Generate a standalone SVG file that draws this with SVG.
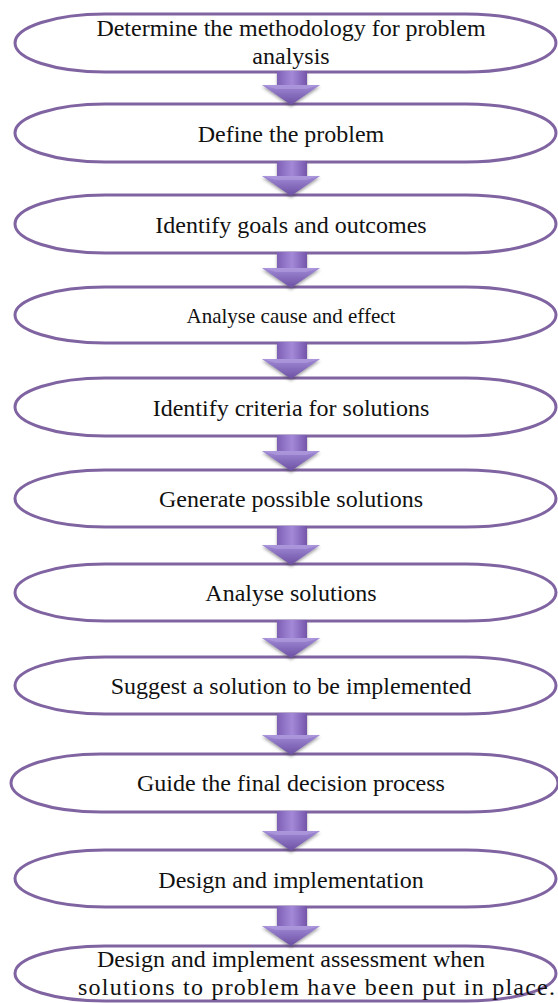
<svg xmlns="http://www.w3.org/2000/svg" width="558" height="1003" viewBox="0 0 558 1003">
<style>
.node path{fill:#fff;stroke:#8064A2;stroke-width:3}
.node text{font-family:'Liberation Serif','Times New Roman',serif;font-size:24px;fill:#111;text-anchor:middle}
.arrow .body{fill:url(#ag)}
.arrow .head{fill:url(#hg)}
.arrow .hl{fill:#b7a2e2;opacity:0.55}
</style>
<defs>
<linearGradient id="ag" x1="0" y1="0" x2="1" y2="0">
<stop offset="0" stop-color="#7d5fb4"/>
<stop offset="0.5" stop-color="#a489d8"/>
<stop offset="1" stop-color="#7455ab"/>
</linearGradient>
<linearGradient id="hg" x1="0" y1="0" x2="0" y2="1">
<stop offset="0" stop-color="#a08ad6"/>
<stop offset="1" stop-color="#6c4fa2"/>
</linearGradient>
<filter id="sh" x="-30%" y="-30%" width="160%" height="170%">
<feDropShadow dx="0" dy="2" stdDeviation="1.5" flood-color="#333" flood-opacity="0.45"/>
</filter>
</defs>

<g id="n1" class="node" font-family="Liberation Serif, serif"><path d="M105 14H466A90 29 0 0 1 466 72H105A90 29 0 0 1 105 14Z"/><text x="291" y="36">Determine the methodology for problem</text><text x="291" y="64">analysis</text></g>
<g id="n2" class="node" font-family="Liberation Serif, serif"><path d="M105 104H466A90 29 0 0 1 466 162H105A90 29 0 0 1 105 104Z"/><text x="291" y="142">Define the problem</text></g>
<g id="n3" class="node" font-family="Liberation Serif, serif"><path d="M105 195H466A90 29 0 0 1 466 253H105A90 29 0 0 1 105 195Z"/><text x="291" y="233">Identify goals and outcomes</text></g>
<g id="n4" class="node" font-family="Liberation Serif, serif"><path d="M105 287H466A90 28 0 0 1 466 343H105A90 28 0 0 1 105 287Z"/><text x="291" y="323" style="font-size:21px">Analyse cause and effect</text></g>
<g id="n5" class="node" font-family="Liberation Serif, serif"><path d="M105 378H466A90 29 0 0 1 466 436H105A90 29 0 0 1 105 378Z"/><text x="291" y="416">Identify criteria for solutions</text></g>
<g id="n6" class="node" font-family="Liberation Serif, serif"><path d="M105 470H466A90 28.5 0 0 1 466 527H105A90 28.5 0 0 1 105 470Z"/><text x="291" y="507">Generate possible solutions</text></g>
<g id="n7" class="node" font-family="Liberation Serif, serif"><path d="M105 564H466A90 28.5 0 0 1 466 621H105A90 28.5 0 0 1 105 564Z"/><text x="291" y="601">Analyse solutions</text></g>
<g id="n8" class="node" font-family="Liberation Serif, serif"><path d="M105 657H466A90 28.5 0 0 1 466 714H105A90 28.5 0 0 1 105 657Z"/><text x="291" y="694">Suggest a solution to be implemented</text></g>
<g id="n9" class="node" font-family="Liberation Serif, serif"><path d="M101 754H468A90 29 0 0 1 468 812H101A90 29 0 0 1 101 754Z"/><text x="291" y="791">Guide the final decision process</text></g>
<g id="n10" class="node" font-family="Liberation Serif, serif"><path d="M105 850H466A90 28.5 0 0 1 466 907H105A90 28.5 0 0 1 105 850Z"/><text x="291" y="888">Design and implementation</text></g>
<g id="n11" class="node" font-family="Liberation Serif, serif"><path d="M105 946H466A90 27.5 0 0 1 466 1001H105A90 27.5 0 0 1 105 946Z"/><text x="291" y="967">Design and implement assessment when</text><text x="78" y="995" style="text-anchor:start" textLength="477" lengthAdjust="spacing">solutions to problem have been put in place.</text></g>

<g id="connectors" filter="url(#sh)">
<g class="arrow"><path class="body" d="M277 71H307V86H277Z"/><path class="head" d="M262 85H320L291 105Z"/><path class="hl" d="M262 85H320L306 89H276Z"/></g>
<g class="arrow"><path class="body" d="M277 161H307V177H277Z"/><path class="head" d="M262 176H320L291 196Z"/><path class="hl" d="M262 176H320L306 180H276Z"/></g>
<g class="arrow"><path class="body" d="M277 252H307V269H277Z"/><path class="head" d="M262 268H320L291 288Z"/><path class="hl" d="M262 268H320L306 272H276Z"/></g>
<g class="arrow"><path class="body" d="M277 342H307V360H277Z"/><path class="head" d="M262 359H320L291 379Z"/><path class="hl" d="M262 359H320L306 363H276Z"/></g>
<g class="arrow"><path class="body" d="M277 435H307V452H277Z"/><path class="head" d="M262 451H320L291 471Z"/><path class="hl" d="M262 451H320L306 455H276Z"/></g>
<g class="arrow"><path class="body" d="M277 526H307V546H277Z"/><path class="head" d="M262 545H320L291 565Z"/><path class="hl" d="M262 545H320L306 549H276Z"/></g>
<g class="arrow"><path class="body" d="M277 620H307V639H277Z"/><path class="head" d="M262 638H320L291 658Z"/><path class="hl" d="M262 638H320L306 642H276Z"/></g>
<g class="arrow"><path class="body" d="M277 713H307V736H277Z"/><path class="head" d="M262 735H320L291 755Z"/><path class="hl" d="M262 735H320L306 739H276Z"/></g>
<g class="arrow"><path class="body" d="M277 811H307V832H277Z"/><path class="head" d="M262 831H320L291 851Z"/><path class="hl" d="M262 831H320L306 835H276Z"/></g>
<g class="arrow"><path class="body" d="M277 906H307V927H277Z"/><path class="head" d="M262 926H320L291 946Z"/><path class="hl" d="M262 926H320L306 930H276Z"/></g>
</g>
</svg>
